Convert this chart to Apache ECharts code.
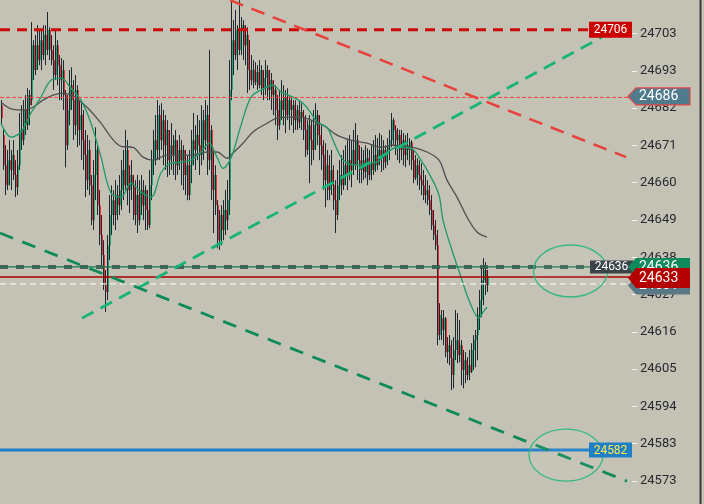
<!DOCTYPE html>
<html><head><meta charset="utf-8">
<script src="https://cdn.jsdelivr.net/npm/echarts@6.0.0/dist/echarts.min.js"></script>
<style>html,body{margin:0;padding:0;background:#c4c2b4;overflow:hidden}#chart{width:704px;height:504px}</style>
</head><body><div id="chart"></div><script>
// ---- candle data (one entry per bar) ----
const open = [24683.7,24674.9,24666.0,24660.1,24667.5,24664.6,24669.0,24663.1,24659.5,24666.0,
24676.4,24673.4,24682.3,24677.8,24686.7,24685.2,24701.4,24694.1,24701.4,24697.0,
24702.9,24698.5,24704.4,24700.0,24705.9,24700.0,24697.0,24692.6,24701.4,24695.5,
24691.1,24694.1,24686.7,24671.9,24682.3,24689.6,24685.2,24677.8,24688.2,24676.4,
24680.8,24673.4,24669.0,24661.6,24670.5,24660.1,24649.8,24663.1,24670.5,24654.2,
24645.4,24639.5,24630.6,24628.6,24642.4,24651.3,24655.7,24651.3,24657.2,24654.2,
24658.7,24664.6,24660.1,24670.5,24658.7,24663.1,24660.1,24651.3,24657.2,24649.8,
24658.7,24654.2,24658.7,24652.8,24648.3,24660.1,24667.5,24673.4,24670.5,24680.8,
24673.4,24679.3,24671.9,24676.4,24667.5,24671.9,24669.0,24673.4,24666.0,24670.5,
24667.5,24670.5,24663.1,24666.0,24657.2,24666.0,24673.4,24670.5,24674.9,24671.9,
24669.0,24679.3,24673.4,24680.8,24667.5,24676.4,24658.7,24663.1,24654.2,24643.9,
24651.3,24646.9,24652.8,24649.8,24655.7,24688.2,24702.9,24698.5,24705.9,24700.0,
24705.9,24707.3,24701.4,24704.4,24694.1,24691.1,24694.1,24690.5,24693.5,24689.6,
24694.1,24688.7,24691.7,24694.1,24688.2,24691.1,24686.7,24688.2,24682.3,24677.8,
24685.2,24682.3,24686.1,24680.8,24685.2,24682.3,24683.7,24679.3,24682.3,24678.7,
24681.7,24679.9,24676.4,24670.5,24677.8,24673.4,24670.5,24677.8,24680.8,24674.9,
24671.9,24669.0,24661.6,24666.0,24658.7,24664.6,24660.1,24655.7,24651.3,24660.1,
24663.1,24660.1,24666.0,24663.1,24667.5,24664.6,24670.5,24666.0,24673.4,24667.5,
24664.6,24667.5,24664.0,24668.1,24663.1,24666.9,24664.6,24669.0,24666.0,24670.5,
24668.1,24670.5,24666.9,24670.5,24671.9,24673.4,24679.3,24676.4,24673.4,24674.9,
24670.5,24673.4,24669.0,24671.9,24670.5,24672.8,24667.5,24662.2,24666.0,24663.1,
24661.6,24660.1,24657.2,24658.7,24655.7,24652.8,24648.3,24645.4,24642.4,24615.9,
24620.9,24617.4,24620.9,24610.9,24612.9,24609.1,24604.1,24611.5,24614.4,24610.0,
24612.9,24605.6,24608.5,24604.1,24607.0,24605.0,24611.5,24614.4,24615.9,24621.8,
24626.2,24632.1,24635.1,24630.6];
const high = [24685.2,24676.4,24671.9,24670.5,24673.4,24670.5,24673.4,24667.5,24670.5,24681.4,
24683.7,24685.2,24686.7,24688.7,24688.2,24708.2,24702.9,24704.4,24707.3,24705.9,
24705.9,24707.3,24707.3,24711.2,24706.7,24704.4,24701.4,24705.9,24702.9,24698.5,
24697.6,24697.0,24688.2,24686.7,24694.1,24694.9,24691.1,24692.6,24689.6,24685.2,
24685.2,24682.3,24676.4,24674.9,24673.4,24663.1,24667.5,24677.2,24671.9,24658.7,
24651.3,24643.9,24635.1,24645.4,24657.2,24660.1,24658.7,24661.6,24660.1,24663.1,
24667.5,24670.5,24676.4,24673.4,24666.0,24667.5,24663.1,24661.6,24663.1,24661.6,
24663.1,24661.6,24660.1,24658.7,24664.6,24670.5,24676.4,24680.8,24685.2,24683.7,
24684.3,24682.3,24680.8,24679.3,24676.4,24678.4,24674.9,24676.4,24673.4,24674.9,
24673.4,24671.9,24670.5,24669.0,24670.5,24676.4,24681.4,24677.8,24680.8,24679.3,
24683.7,24682.3,24685.2,24683.7,24700.0,24677.8,24670.5,24666.0,24655.7,24652.8,
24654.2,24655.7,24658.7,24661.6,24697.0,24714.7,24708.8,24711.8,24707.3,24714.7,
24709.7,24708.8,24707.3,24706.7,24702.9,24698.5,24697.0,24696.4,24695.5,24697.0,
24695.5,24694.1,24697.0,24695.5,24694.1,24693.2,24691.1,24689.6,24686.7,24688.2,
24691.1,24689.6,24688.2,24688.7,24686.7,24686.1,24685.2,24685.2,24683.7,24685.2,
24684.3,24682.3,24680.8,24679.3,24680.8,24679.3,24682.3,24684.3,24682.3,24680.8,
24677.8,24673.4,24672.5,24670.5,24669.0,24670.5,24666.0,24661.6,24664.6,24667.5,
24669.0,24670.5,24671.9,24673.4,24674.9,24673.4,24676.4,24678.4,24674.9,24671.9,
24671.3,24670.5,24671.9,24671.0,24670.5,24671.9,24673.4,24674.9,24674.0,24675.5,
24674.9,24673.4,24671.9,24674.0,24676.4,24681.4,24679.9,24677.8,24676.9,24676.4,
24676.4,24675.5,24674.9,24675.5,24674.0,24673.4,24670.5,24669.0,24668.1,24667.5,
24666.6,24664.6,24663.1,24661.6,24660.1,24657.2,24652.8,24649.8,24646.9,24625.3,
24623.3,24623.3,24621.2,24615.3,24615.9,24614.4,24615.3,24623.3,24622.4,24620.3,
24614.4,24611.5,24610.9,24609.4,24611.5,24613.5,24615.9,24617.4,24624.1,24629.2,
24636.5,24638.6,24637.4,24635.1];
const low = [24677.8,24664.6,24657.2,24658.7,24660.1,24658.7,24661.6,24656.6,24657.2,24664.6,
24670.5,24671.9,24674.9,24676.4,24677.8,24683.7,24691.1,24692.6,24694.1,24695.5,
24694.1,24697.0,24695.5,24698.5,24697.0,24695.5,24688.2,24691.1,24689.6,24685.2,
24685.2,24682.3,24665.4,24670.5,24677.8,24682.3,24673.4,24674.9,24671.3,24671.9,
24667.5,24664.6,24656.6,24658.7,24657.2,24648.3,24646.9,24655.7,24651.3,24642.4,
24636.5,24629.2,24622.7,24626.2,24638.0,24645.4,24648.3,24646.9,24649.8,24651.3,
24652.8,24655.7,24658.7,24654.2,24651.9,24655.7,24649.8,24648.3,24646.0,24648.3,
24651.3,24649.8,24646.9,24646.9,24647.4,24655.7,24663.1,24666.0,24667.5,24667.5,
24670.5,24666.0,24664.6,24662.5,24663.1,24664.6,24663.1,24661.6,24663.1,24664.6,
24660.1,24658.7,24657.2,24655.7,24655.7,24660.7,24666.0,24664.6,24667.5,24663.1,
24666.0,24667.5,24670.5,24663.1,24664.6,24655.7,24646.0,24651.3,24641.5,24641.0,
24642.4,24643.9,24645.4,24646.9,24651.3,24685.2,24692.6,24697.0,24694.1,24698.5,
24698.5,24697.0,24695.5,24687.3,24688.2,24689.6,24688.7,24689.6,24688.2,24688.7,
24686.7,24685.2,24686.7,24685.2,24685.2,24682.3,24680.8,24677.8,24673.4,24676.4,
24679.3,24677.8,24675.5,24679.3,24676.4,24677.8,24675.5,24676.4,24676.4,24676.9,
24676.4,24673.4,24668.4,24669.0,24660.7,24666.0,24667.5,24670.5,24671.9,24667.5,
24664.6,24658.7,24653.6,24655.7,24655.7,24657.2,24652.8,24646.0,24649.8,24655.7,
24657.2,24658.7,24660.1,24658.7,24661.6,24659.5,24663.1,24664.6,24661.6,24660.7,
24660.7,24661.6,24662.2,24660.1,24661.6,24661.6,24663.1,24664.0,24664.6,24666.0,
24664.0,24664.6,24665.1,24666.0,24667.5,24671.3,24671.9,24669.0,24667.5,24666.6,
24667.5,24666.0,24665.4,24667.5,24666.0,24664.6,24660.7,24661.6,24660.1,24658.7,
24657.2,24655.7,24654.8,24654.2,24651.3,24646.9,24643.9,24641.0,24612.9,24614.4,
24614.4,24612.9,24609.4,24607.6,24607.0,24599.7,24600.2,24608.5,24607.6,24607.9,
24601.1,24600.2,24601.7,24602.6,24602.6,24604.7,24605.6,24606.4,24608.5,24617.4,
24621.2,24624.7,24627.7,24628.6];
const close = [24679.9,24666.0,24660.1,24667.5,24664.6,24669.0,24663.1,24659.5,24666.0,24676.4,
24673.4,24682.3,24677.8,24686.7,24683.7,24701.4,24694.1,24701.4,24697.0,24702.9,
24698.5,24704.4,24700.0,24705.9,24700.0,24697.0,24692.6,24701.4,24695.5,24691.1,
24694.1,24686.7,24671.9,24682.3,24689.6,24685.2,24677.8,24688.2,24676.4,24680.8,
24673.4,24669.0,24661.6,24670.5,24660.1,24649.8,24663.1,24670.5,24654.2,24645.4,
24639.5,24630.6,24628.6,24642.4,24651.3,24655.7,24651.3,24657.2,24654.2,24658.7,
24664.6,24660.1,24670.5,24658.7,24663.1,24660.1,24651.3,24657.2,24649.8,24658.7,
24654.2,24658.7,24652.8,24648.3,24660.1,24667.5,24673.4,24670.5,24680.8,24673.4,
24679.3,24671.9,24676.4,24667.5,24671.9,24669.0,24673.4,24666.0,24670.5,24667.5,
24670.5,24663.1,24666.0,24657.2,24666.0,24673.4,24670.5,24674.9,24671.9,24669.0,
24679.3,24673.4,24680.8,24667.5,24676.4,24658.7,24663.1,24654.2,24643.9,24651.3,
24646.9,24652.8,24649.8,24655.7,24688.2,24702.9,24698.5,24705.9,24700.0,24705.9,
24707.3,24701.4,24704.4,24694.1,24691.1,24694.1,24690.5,24693.5,24689.6,24694.1,
24688.7,24691.7,24694.1,24688.2,24691.1,24686.7,24688.2,24682.3,24677.8,24685.2,
24682.3,24686.1,24680.8,24685.2,24682.3,24683.7,24679.3,24682.3,24678.7,24681.7,
24679.9,24676.4,24670.5,24677.8,24673.4,24670.5,24677.8,24680.8,24674.9,24671.9,
24669.0,24661.6,24666.0,24658.7,24664.6,24660.1,24655.7,24651.3,24660.1,24663.1,
24660.1,24666.0,24663.1,24667.5,24664.6,24670.5,24666.0,24673.4,24667.5,24664.6,
24667.5,24664.0,24668.1,24663.1,24666.9,24664.6,24669.0,24666.0,24670.5,24668.1,
24670.5,24666.9,24670.5,24671.9,24673.4,24679.3,24676.4,24673.4,24674.9,24670.5,
24673.4,24669.0,24671.9,24670.5,24672.8,24667.5,24662.2,24666.0,24663.1,24661.6,
24660.1,24657.2,24658.7,24655.7,24652.8,24648.3,24645.4,24642.4,24615.9,24621.8,
24617.4,24620.9,24610.9,24612.9,24609.1,24604.1,24611.5,24614.4,24610.0,24612.9,
24605.6,24608.5,24604.1,24607.0,24605.0,24611.5,24614.4,24615.9,24621.8,24626.2,
24632.1,24635.1,24630.6,24633.0];

// ---- moving averages (bar index, value) ----
const maFastIdx = [0,5,10,15,20,25,30,35,40,45,50,55,60,65,70,75,80,85,90,95,100,104,108,111,115,120,125,130,136,140,146,151,155,158,163,166,170,173,178,183,188,193,198,205,210,215,219,221,225,230,234,239,241,243];
const maFastVal = [24678.4,24674.3,24675.8,24681.4,24686.1,24691.1,24691.7,24688.7,24685.2,24678.4,24668.4,24657.8,24656.6,24660.7,24658.1,24656.6,24663.7,24666.6,24666.9,24667.5,24669.9,24672.5,24668.4,24665.1,24668.1,24677.8,24686.1,24688.2,24689.6,24687.6,24686.1,24684.3,24681.4,24678.7,24677.2,24673.4,24668.4,24666.6,24666.0,24666.6,24666.9,24669.6,24671.3,24671.0,24667.5,24662.5,24657.2,24649.8,24641.8,24633.0,24626.2,24620.9,24622.7,24624.1];
const maSlowIdx = [0,6,12,16,21,26,31,36,43,50,55,60,66,71,76,83,90,96,103,108,113,116,121,126,133,138,145,150,155,161,168,175,183,190,196,206,213,219,223,228,233,238,243];
const maSlowVal = [24684.6,24682.5,24682.3,24683.1,24685.2,24686.7,24687.3,24686.4,24683.1,24678.4,24674.3,24671.6,24671.3,24668.4,24667.5,24669.0,24669.0,24669.0,24669.9,24669.9,24668.1,24669.6,24672.5,24675.8,24678.4,24679.9,24680.2,24680.2,24679.3,24677.8,24674.9,24673.4,24672.5,24671.3,24671.9,24671.3,24669.9,24667.5,24661.6,24656.6,24650.7,24646.3,24644.8];

// ---- y tick labels (as printed) ----
const yTickLabels = ['24573','24583','24594','24605','24616','24627','24638','24649','24660','24671','24682','24693','24703'];
const yTickFirst = 24572.86, yTickStep = 11;

// ---- horizontal levels ----
const levelResist = 24706, levelAlert = 24686, levelSwing = 24636, levelBid = 24633, levelAsk = 24631, levelSupport = 24582;

// ---- trend lines: [barIndex, price] end points ----
const trendRedDown = [[114.5, 24714.7], [312.5, 24668.4]];
const trendGreenUp = [[40.5, 24620.9], [300.5, 24703.8]];
const trendGreenDown = [[-0.5, 24646.0], [313, 24572.8]];

// ---- ellipse annotation centres ----
const ellipseCentres = [[284.75, 24634.8], [282.5, 24580.5]];

const UP = '#1fa86f', DOWN = '#e6303c', WICK = '#1e2830';
const candleData = open.map((o, i) => [i, o, close[i], low[i], high[i]]);
const pairs = (xs, vs) => xs.map((x, k) => [x, vs[k]]);

function renderCandle(params, api) {
  const i = api.value(0), o = api.value(1), c = api.value(2), l = api.value(3), h = api.value(4);
  const pO = api.coord([i, o]), pC = api.coord([i, c]), pH = api.coord([i, h]), pL = api.coord([i, l]);
  const x = Math.floor(pO[0]);
  const y1 = Math.min(pO[1], pC[1]), y2 = Math.max(pO[1], pC[1]);
  return {type: 'group', children: [
    {type: 'rect', shape: {x: x, y: y1, width: 2, height: Math.max(1, y2 - y1)}, style: {fill: c >= o ? UP : DOWN}},
    {type: 'line', shape: {x1: x + 0.5, y1: pH[1], x2: x + 0.5, y2: pL[1]}, style: {stroke: WICK, lineWidth: 1}}
  ]};
}

const X0 = -0.5, XBOX = 294, XBOX2 = 296.5, XTAG = 313.5, XEND = 315.5;
function hline(v, x1, ls, z) {
  return {type: 'line', data: [[X0, v], [x1, v]], symbol: 'none', silent: true, z: z || 4, lineStyle: ls, animation: false};
}
function tline(pts, ls) {
  return {type: 'line', data: pts, symbol: 'none', silent: true, z: 5, lineStyle: ls, animation: false};
}

const lineBoxes = [
  {value: levelResist, bg: '#cc0000', fg: '#ffffff', x0: 589, x1: 632, h: 16, fs: 12},
  {value: levelSupport, bg: '#1f80c8', fg: '#ffe94a', x0: 589, x1: 632, h: 15, fs: 12},
  {value: levelSwing, bg: '#3b4549', fg: '#ffffff', x0: 590, x1: 633, h: 13, fs: 12}
];
const priceTags = [
  {value: levelAlert, bg: '#4f7b8d', border: '#e34848', dy: -1, h: 17},
  {value: levelAsk, bg: '#5a7785', dy: 1.5, h: 18},
  {value: levelSwing, bg: '#0e8a5d', dy: 0, h: 18},
  {value: levelBid, bg: '#b40000', dy: 1, h: 20}
];

function renderBox(params, api) {
  const b = lineBoxes[params.dataIndex];
  const cy = api.coord([0, b.value])[1];
  return {type: 'group', children: [
    {type: 'rect', shape: {x: b.x0, y: cy - b.h / 2, width: b.x1 - b.x0, height: b.h}, style: {fill: b.bg}},
    {type: 'text', style: {text: String(b.value), x: (b.x0 + b.x1) / 2, y: cy + 0.5, fill: b.fg, fontSize: b.fs, fontFamily: 'Roboto', align: 'center', verticalAlign: 'middle'}}
  ]};
}
function renderTag(params, api) {
  const t = priceTags[params.dataIndex];
  const cy = api.coord([0, t.value])[1] + t.dy;
  const hh = t.h / 2, x0 = 628, xs = 636, x1 = 690;
  return {type: 'group', children: [
    {type: 'polygon', shape: {points: [[x0, cy], [xs, cy - hh], [x1, cy - hh], [x1, cy + hh], [xs, cy + hh]]},
      style: {fill: t.bg, stroke: t.border || null, lineWidth: t.border ? 1.2 : 0}},
    {type: 'text', style: {text: String(t.value), x: 639, y: cy + 0.5, fill: '#ffffff', fontSize: 14, fontFamily: 'Roboto', align: 'left', verticalAlign: 'middle'}}
  ]};
}
function renderEllipse(params, api) {
  const p = api.coord([api.value(0), api.value(1)]);
  return {type: 'ellipse', shape: {cx: p[0], cy: p[1], rx: 37, ry: 26},
    style: {fill: 'rgba(255,255,255,0.05)', stroke: '#35b981', lineWidth: 1.3}};
}

const chart = echarts.init(document.getElementById('chart'), null, {renderer: 'canvas'});
chart.setOption({
  animation: false,
  backgroundColor: '#c4c2b4',
  grid: {left: 0, right: 72, top: -3.8, bottom: -14.3, containLabel: false, outerBoundsMode: 'none'},
  xAxis: {type: 'value', min: -0.5, max: 315.5, show: false},
  yAxis: {
    type: 'value', position: 'right', min: yTickFirst - yTickStep, max: yTickFirst + 13 * yTickStep, interval: yTickStep,
    axisLine: {show: false, onZero: false}, splitLine: {show: false},
    axisTick: {show: true, length: 5, inside: false, lineStyle: {color: '#f4f4f4', width: 1}},
    axisLabel: {
      margin: 8, color: '#262a2f', fontSize: 13, fontFamily: 'Roboto',
      formatter: v => { const k = Math.round((v - yTickFirst) / yTickStep); return yTickLabels[k] || ''; }
    }
  },
  graphic: [{type: 'rect', shape: {x: 699.5, y: 0, width: 2, height: 504}, style: {fill: '#3a3a3a'}, z: 100}],
  series: [
    {type: 'custom', data: candleData, encode: {x: 0, y: [1, 2, 3, 4]}, renderItem: renderCandle, z: 2, silent: true, clip: false},
    {type: 'line', data: pairs(maSlowIdx, maSlowVal), smooth: 0.35, symbol: 'none', silent: true, z: 3, lineStyle: {color: '#4d5151', width: 1.3}},
    {type: 'line', data: pairs(maFastIdx, maFastVal), smooth: 0.35, symbol: 'none', silent: true, z: 3, lineStyle: {color: '#1e9a69', width: 1.3}},
    hline(levelResist, XBOX, {color: '#cc0a0a', width: 3, type: [10, 7]}),
    hline(levelAlert, XTAG, {color: '#ee4646', width: 1, type: [4, 2]}),
    hline(levelSwing, XBOX2, {color: 'rgba(66,76,78,0.85)', width: 4, type: [8, 8]}),
    hline(levelSwing, XEND, {color: '#17784f', width: 1.3}),
    hline(levelBid, XEND, {color: '#a80000', width: 1.5}),
    hline(levelAsk, XEND, {color: '#f2f2f2', width: 1.3, type: [6, 4]}),
    hline(levelSupport, XBOX, {color: '#1f7fc9', width: 3}),
    tline(trendRedDown, {color: '#e8403a', width: 2.5, type: [14, 9]}),
    tline(trendGreenUp, {color: '#16b478', width: 2.8, type: [13, 8]}),
    tline(trendGreenDown, {color: '#0d8a5a', width: 2.8, type: [14, 10]}),
    {type: 'custom', data: ellipseCentres, renderItem: renderEllipse, z: 6, silent: true, clip: false},
    {type: 'custom', data: lineBoxes.map(b => [0, b.value]), renderItem: renderBox, z: 8, silent: true, clip: false},
    {type: 'custom', data: priceTags.map(t => [0, t.value]), renderItem: renderTag, z: 10, silent: true, clip: false}
  ]
});
</script></body></html>
